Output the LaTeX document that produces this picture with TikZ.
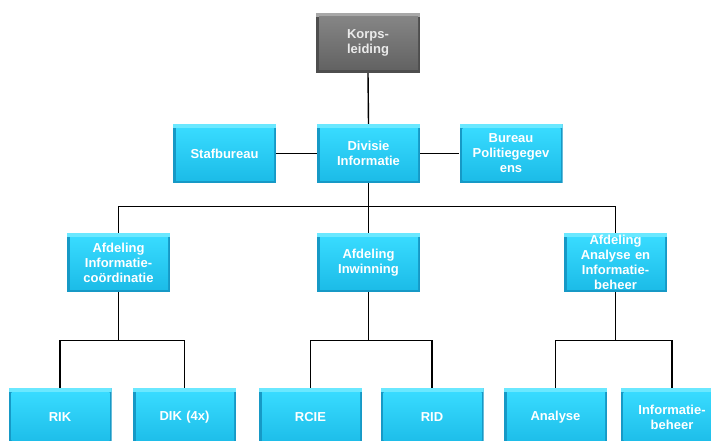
\documentclass[tikz,border=0pt]{standalone}
\usepackage{fontspec}
\setmainfont{Liberation Sans}
\begin{document}
\definecolor{cyantop}{HTML}{38DBFF}
\definecolor{cyanbot}{HTML}{1CBCE8}
\definecolor{cyanlight}{HTML}{6AE8FF}
\definecolor{cyandark}{HTML}{1699C6}
\definecolor{greytop}{HTML}{858585}
\definecolor{greybot}{HTML}{626262}
\definecolor{greylight}{HTML}{A8A8A8}
\definecolor{greydark}{HTML}{4E4E4E}
\tikzset{
  orgbox/.style={
    rectangle, minimum width=103pt, minimum height=59pt, inner sep=0pt,
    text width=102pt, align=center, text=white,
    font=\fontsize{13}{15}\selectfont\bfseries,
    path picture={
      \fill[cyandark] (path picture bounding box.south west) rectangle (path picture bounding box.north east);
      \fill[cyanlight] ([shift={(0pt,-4pt)}]path picture bounding box.north west) rectangle (path picture bounding box.north east);
      \shade[top color=cyantop, bottom color=cyanbot]
        ([shift={(3pt,-4pt)}]path picture bounding box.north west) rectangle ([shift={(-2pt,3pt)}]path picture bounding box.south east);
    }},
  headbox/.style={
    rectangle, minimum width=104pt, minimum height=60pt, inner sep=0pt,
    text width=102pt, align=center, text=white!92!black,
    font=\fontsize{13}{15}\selectfont\bfseries,
    path picture={
      \fill[greydark] (path picture bounding box.south west) rectangle (path picture bounding box.north east);
      \fill[greylight] ([shift={(0pt,-4pt)}]path picture bounding box.north west) rectangle (path picture bounding box.north east);
      \shade[top color=greytop, bottom color=greybot]
        ([shift={(3pt,-4pt)}]path picture bounding box.north west) rectangle ([shift={(-2pt,3pt)}]path picture bounding box.south east);
    }},
  link/.style={draw=black, line width=1.4pt}
}
\begin{tikzpicture}[x=1pt, y=-1pt]
  \useasboundingbox (0,0) rectangle (711,441);
  \clip (0,0) rectangle (711,441);

  % top level
  \node[headbox] (kl) at (368,43) {Korps-\\leiding};

  % second level
  \node[orgbox] (staf) at (224.5,153.5) {Stafbureau};
  \node[orgbox] (div) at (368.5,153.5) {Divisie\\Informatie};
  \node[orgbox] (bur) at (511,153.5) {Bureau\\Politiegegev\\ens};

  % departments
  \node[orgbox] (afd1) at (118.5,262.5) {Afdeling\\Informatie-\\coördinatie};
  \node[orgbox] (afd2) at (368.5,262.5) {Afdeling\\Inwinning};
  \node[orgbox] (afd3) at (615.5,262.5) {Afdeling\\Analyse en\\Informatie-\\beheer};

  % units
  \node[orgbox] (rik) at (60,417.5) {RIK};
  \node[orgbox] (dik) at (184.5,417.5) {DIK (4x)};
  \node[orgbox] (rcie) at (310.5,417.5) {RCIE};
  \node[orgbox] (rid) at (432,417.5) {RID};
  \node[orgbox] (ana) at (555.5,417.5) {Analyse};
  \node[orgbox] (ib) at (672,417.5) {Informatie-\\beheer};

  % connectors
  \draw[link] (kl.south) -- (div.north);
  \draw[link] (staf.east) -- (div.west);
  \draw[link] (div.east) -- (bur.west);
  \draw[link] (div.south) -- (afd2.north);
  \draw[link] (div.south) -- ++(0,23) -| (afd1.north);
  \draw[link] (div.south) -- ++(0,23) -| (afd3.north);

  \draw[link] (afd1.south) -- ++(0,48) -| (rik.north);
  \draw[link] (afd1.south) -- ++(0,48) -| (dik.north);
  \draw[link] (afd2.south) -- ++(0,48) -| (rcie.north);
  \draw[link] (afd2.south) -- ++(0,48) -| (rid.north);
  \draw[link] (afd3.south) -- ++(0,48) -| (ana.north);
  \draw[link] (afd3.south) -- ++(0,48) -| (ib.north);
\end{tikzpicture}
\end{document}
